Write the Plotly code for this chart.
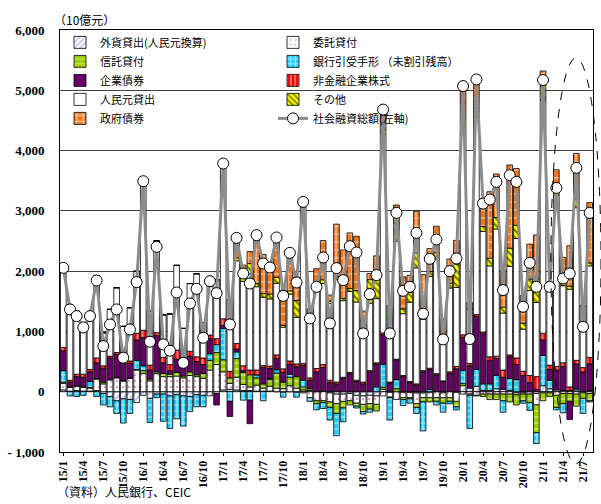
import plotly.graph_objects as go

months = [f"{y % 100}/{m}" for y in range(2015, 2022) for m in range(1, 13)][:80]

total = [2055, 1365, 1254, 1066, 1254, 1845, 757, 1116, 1365, 564, 1033, 1818,
         3492, 829, 2403, 785, 680, 1646, 480, 1464, 1707, 895, 1834, 1635,
         3785, 1116, 2552, 1961, 1795, 2597, 2127, 2060, 2558, 1591, 2304, 1812,
         3149, 1215, 1740, 2227, 1133, 2050, 1851, 2414, 2309, 967, 1619, 1934,
         4680, 967, 2967, 1674, 1740, 2635, 1293, 2204, 2525, 867, 2000, 2210,
         5070, 873, 5180, 3120, 3188, 3481, 1685, 3591, 3481, 1409, 2138, 1740,
         5170, 1740, 3381, 1878, 1961, 3713, 1077, 2967]

fx_loans = [30, 10, 20, 10, 10, 20, -30, -80, -150, -120, -130, -180,
            -60, -110, -40, -40, -70, -50, -70, -80, -50, -60, -70, -30,
            30, 40, 30, 20, 20, 10, 10, 10, 0, -10, 0, -10,
            30, 20, 0, 10, -20, -40, -40, -30, -60, -70, -60, -70,
            40, -10, 0, -10, -10, -20, -20, -10, 0, -20, 0, -10,
            100, 60, 90, 20, 20, 50, 40, 20, -20, -20, 0, -30,
            100, 50, 30, 20, 20, 30, 0, 20]

entrusted = [110, 60, 70, 60, 50, 190, 130, 200, 230, 180, 220, 360,
             300, 180, 300, 250, 250, 260, 230, 270, 250, 220, 360, 450,
             300, 100, 210, 100, 60, 100, 50, 80, 60, 50, 100, 60,
             -20, -100, -150, -150, -150, -160, -120, -120, -130, -140, -140, -140,
             -70, -80, -130, -90, -90, -180, -80, -90, -100, -80, -100, -150,
             -40, -40, -60, -40, -40, -40, -40, -40, -30, -20, -40, -190,
             -20, -20, -60, -30, -30, -40, -20, -30]

trust = [20, 10, 10, 20, 10, 10, 30, 0, 10, 0, 10, 10,
         50, 30, 30, 50, 40, 60, 30, 60, 30, 80, 160, 200,
         200, 90, 310, 200, 200, 120, 70, 110, 250, 110, 140, 190,
         50, 30, -50, -30, -90, -160, -110, -70, -50, -120, -90, -110,
         35, -10, 50, -30, -20, -60, -70, -70, -60, -90, -60, -90,
         35, -20, -10, -40, -90, -90, -110, -130, -170, -110, -140, -460,
         -130, -60, -200, -170, -130, -200, -90, -120]

bills = [190, -70, -80, -60, 100, -80, -190, -170, -210, -400, -230, 150,
         80, -400, -60, -450, -540, -400, -500, -250, -200, -190, 110, 130,
         520, -160, 110, -140, -140, 50, -150, 20, 55, -80, 50, -80,
         110, -60, -100, -100, -210, -370, -230, 0, -30, -40, -50, 80,
         380, -370, 150, -100, -70, -100, -480, 40, -60, -150, -40, -50,
         220, -550, 280, 110, 110, 220, -190, 200, 200, -40, -130, -180,
         500, 140, -40, -150, 0, 20, -250, -20]

corp_bonds = [330, 80, 150, 150, 160, 260, 230, 360, 380, 290, 240, 340,
              470, 150, 600, 180, 60, 220, 250, 260, 220, 150, 250, -190,
              50, -250, 50, 30, -390, 0, 275, 165, 190, 165, 165, 165,
              250, 140, 330, 390, 150, 130, 220, 300, 170, 130, 330, 380,
              490, 150, 330, 250, 150, 110, 330, 330, 280, 170, 300, 380,
              550, 370, 880, 830, 390, 280, 200, 360, 250, 270, 150, 40,
              260, 180, 330, 400, -300, 410, 330, 440]

equity = [55, 30, 40, 50, 40, 80, 40, 30, 30, 40, 40, 110,
          120, 80, 50, 90, 100, 150, 60, 80, 80, 110, 60, 100,
          110, 110, 90, 80, 80, 80, 30, 40, 55, 55, 55, 45,
          30, 40, 55, 50, 40, 30, 20, 20, 20, 30, 20, 20,
          30, 10, 10, 20, 20, 20, 20, 20, 20, 10, 30, 40,
          40, 40, 30, 30, 60, 40, 120, 30, 110, 70, 120, 210,
          110, 70, 60, 60, 60, 60, 70, 110]

rmb_loans = [1320, 1245, 1044, 836, 884, 1365, 547, 776, 1075, 574, 883, 1028,
             2532, 899, 1523, 705, 840, 1406, 480, 1124, 1377, 585, 964, 975,
             2575, 1186, 1372, 1401, 1595, 1382, 1132, 1115, 1188, 691, 1109, 772,
             2599, 985, 1285, 1347, 1273, 1700, 1271, 1344, 1299, 1007, 1119, 1064,
             3295, 747, 1957, 1024, 1315, 1925, 853, 1524, 1905, 657, 1390, 1310,
             3365, 893, 3280, 1670, 1508, 2111, 945, 1471, 1981, 699, 1408, 1230,
             3860, 1240, 2841, 1278, 1621, 2533, 1017, 1517]

others = [0] * 26 + [50, 50, 170, 55, 60, 80, 100, 30, 55, 280,
                     30, 30, 70, 60, 40, 50, 40, 50, 190, 20, 390, 380,
                     200, 60, 300, 80, 165, 250, 50, 80, 100, 30, 80, 390,
                     200, 0, 150, 80, 130, 190, 100, 300, 220, 100, 190, 390,
                     250, 40, 80, 50, 50, 160, 0, 50]

gov_bonds = [0] * 26 + [330, 220, 200, 800, 650, 440, 660, 580, 630, 390,
                        70, 130, 300, 650, 100, 870, 800, 920, 900, 150, 100, 330,
                        280, 470, 300, 530, 280, 690, 690, 380, 440, 340, 400, 390,
                        600, 120, 540, 460, 1100, 720, 620, 1380, 940, 460, 580, 730,
                        240, 100, 340, 420, 670, 740, 20, 1000]

names = ["外貨貸出(人民元換算)", "委託貸付", "信託貸付", "銀行引受手形 （未割引残高）",
         "企業債券", "非金融企業株式", "人民元貸出", "その他", "政府債券"]
series = [fx_loans, entrusted, trust, bills, corp_bonds, equity, rmb_loans, others, gov_bonds]

styles = [
    dict(color="white", pattern=dict(shape="/", fgcolor="#8c8cf0", bgcolor="white", size=5, solidity=0.45)),
    dict(color="white", pattern=dict(shape=".", fgcolor="#c0508a", bgcolor="white", size=6, solidity=0.15)),
    dict(color="#99cc00", pattern=dict(shape="-", fgcolor="#e6f5b0", bgcolor="#99cc00", size=6, solidity=0.35)),
    dict(color="#22ccff", pattern=dict(shape="+", fgcolor="white", bgcolor="#22ccff", size=6, solidity=0.45)),
    dict(color="#660066"),
    dict(color="#ff0000", pattern=dict(shape="|", fgcolor="white", bgcolor="#ff0000", size=5, solidity=0.4)),
    dict(color="white"),
    dict(color="#ffff00", pattern=dict(shape="\\", fgcolor="black", bgcolor="#ffff00", size=5, solidity=0.45)),
    dict(color="#f07820", pattern=dict(shape="+", fgcolor="white", bgcolor="#f07820", size=8, solidity=0.35)),
]

x = list(range(len(months)))
fig = go.Figure()
for nm, vals, st in zip(names, series, styles):
    m = dict(st)
    m["line"] = dict(color="black", width=0.8)
    fig.add_trace(go.Bar(x=x, y=vals, name=nm, marker=m))

fig.add_trace(go.Scatter(
    x=x, y=total, name="社会融資総額(左軸)", mode="lines+markers",
    line=dict(color="#8c8c8c", width=3),
    marker=dict(symbol="circle", size=11, color="white", line=dict(color="black", width=1)),
))

tick_idx = list(range(0, 80, 3))
tick_txt = [months[i] for i in tick_idx]
y_vals = [-1000, 0, 1000, 2000, 3000, 4000, 5000, 6000]
y_txt = ["- 1,000", "0", "1,000", "2,000", "3,000", "4,000", "5,000", "6,000"]

serif_x = dict(family="Liberation Serif", size=12, color="black", weight="bold")
serif_y = dict(family="Liberation Serif", size=13, color="black", weight="bold")
jp_font = dict(family="Noto Sans CJK JP", size=11, color="black")

fig.update_layout(
    width=601, height=504,
    margin=dict(l=60, r=8, t=30, b=52),
    paper_bgcolor="white", plot_bgcolor="white",
    barmode="relative", bargap=0.15,
    showlegend=True,
    legend=dict(orientation="h", x=0.0, y=1.005, xanchor="left", yanchor="top",
                entrywidth=168, entrywidthmode="pixels", font=jp_font,
                bgcolor="rgba(0,0,0,0)", itemwidth=30, tracegroupgap=0),
    font=jp_font,
)
fig.update_xaxes(range=[-0.5, 79.5], tickmode="array", tickvals=tick_idx, ticktext=tick_txt,
                 tickangle=-90, tickfont=serif_x, showline=True, linecolor="black",
                 linewidth=1, mirror=True, showgrid=False, ticks="outside", ticklen=3,
                 tickcolor="black", zeroline=False)
fig.update_yaxes(range=[-1000, 6000], tickmode="array", tickvals=y_vals, ticktext=y_txt,
                 tickfont=serif_y, showline=True, linecolor="black", linewidth=1,
                 mirror=True, showgrid=True, gridcolor="#404040", gridwidth=1,
                 zeroline=True, zerolinecolor="black", zerolinewidth=1.2, ticks="",
                 ticklabelstandoff=12)

fig.add_annotation(text="（10億元）", xref="paper", yref="paper", x=-0.015, y=1.0,
                   xanchor="left", yanchor="bottom", showarrow=False,
                   font=dict(family="Noto Sans CJK JP", size=12, color="black"))
fig.add_annotation(text="（資料）人民銀行、CEIC", xref="paper", yref="paper", x=-0.01, y=-0.093,
                   xanchor="left", yanchor="middle", showarrow=False,
                   font=dict(family="Noto Sans CJK JP", size=12, color="black"))

fig.add_shape(type="circle", xref="paper", yref="paper", x0=0.921, x1=1.015, y0=-0.028, y1=0.934,
              line=dict(color="black", width=1, dash="dash"))

fig.write_html("out.html", config={"displayModeBar": False},
               post_script="document.body.style.margin='0';document.body.style.overflow='hidden';")
